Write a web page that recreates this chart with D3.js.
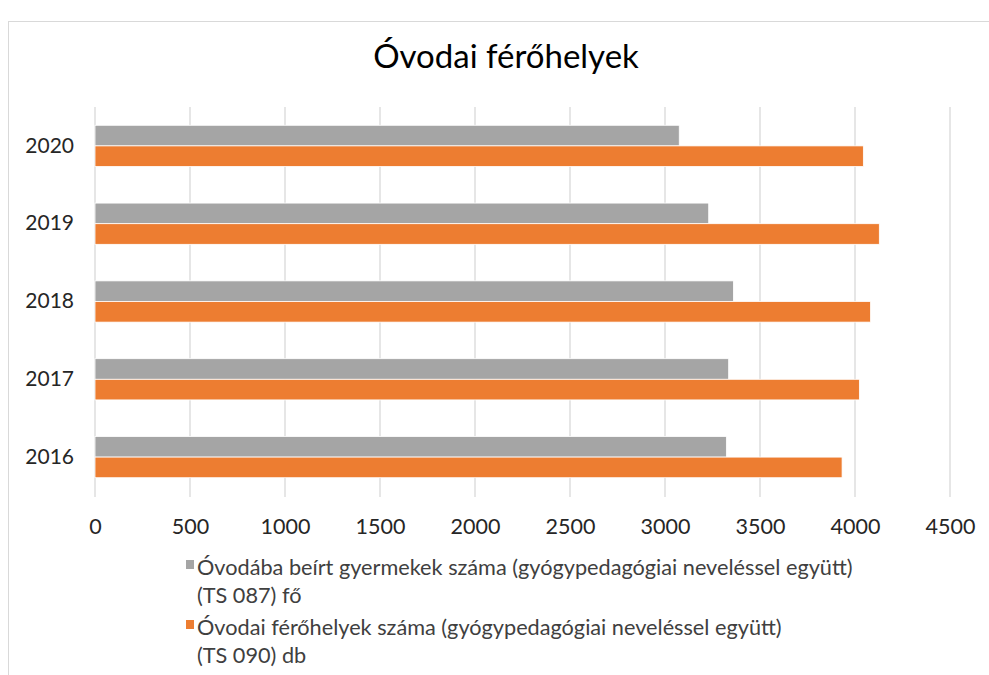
<html>
<script src='https://d3js.org/d3.v7.min.js'></script>
<style>
body {margin:0; background:#fff;}
text {font-family: Lato, "Liberation Sans", sans-serif; fill:#404040;}
</style>
<body onload='init()'>
<svg width=989 height=675></svg>
<script>
var years = ["2020", "2019", "2018", "2017", "2016"]
var enrolled = [3075, 3230, 3360, 3335, 3323]
var places = [4044, 4128, 4082, 4023, 3932]
var xTicks = [0, 500, 1000, 1500, 2000, 2500, 3000, 3500, 4000, 4500]
var seriesNames = [
  ["Óvodába beírt gyermekek száma (gyógypedagógiai neveléssel együtt)", "(TS 087) fő"],
  ["Óvodai férőhelyek száma (gyógypedagógiai neveléssel együtt)", "(TS 090) db"]
]
var colors = ["#A5A5A5", "#ED7D31"]

function init() {
var svg = d3.select("svg")
svg.append("rect").attr("x", 8.5).attr("y", 21.5).attr("width", 1000).attr("height", 700)
  .attr("fill", "#fff").attr("stroke", "#D9D9D9")

svg.append("text").attr("x", 506).attr("y", 68).attr("text-anchor", "middle")
  .style("font-size", "33px").style("fill", "#000").text("Óvodai férőhelyek")

var x = d3.scaleLinear().domain([0, 4500]).range([95, 950])
var y = d3.scaleBand().domain(years).range([107, 496]).paddingInner(0.47).paddingOuter(0.235)
var sub = d3.scaleBand().domain([0, 1]).range([0, y.bandwidth()])

svg.append("g").selectAll("line").data(xTicks).enter().append("line")
  .attr("x1", d => x(d)).attr("x2", d => x(d)).attr("y1", 107).attr("y2", 497)
  .attr("stroke", "#D9D9D9").attr("stroke-width", 1.3)

var data = years.map((yr, i) => ({year: yr, vals: [enrolled[i], places[i]]}))
svg.append("g").selectAll("g").data(data).enter().append("g")
  .attr("transform", d => "translate(0," + y(d.year) + ")")
  .selectAll("rect").data(d => d.vals).enter().append("rect")
  .attr("x", x(0)).attr("y", (d, i) => sub(i))
  .attr("width", d => x(d) - x(0)).attr("height", sub.bandwidth())
  .attr("fill", (d, i) => colors[i]).attr("stroke", "#fff").attr("stroke-width", 0.8)

var yAxis = svg.append("g").attr("transform", "translate(95,0)")
  .call(d3.axisLeft(y).tickSize(0).tickPadding(21))
yAxis.select(".domain").remove()
yAxis.selectAll("text").style("font-size", "21px").style("fill", "#262626")

var xAxis = svg.append("g").attr("transform", "translate(0,519)")
  .call(d3.axisBottom(x).tickValues(xTicks).tickSize(0).tickPadding(0).tickFormat(d3.format("d")))
xAxis.select(".domain").remove()
xAxis.selectAll("text").style("font-size", "21.5px").style("fill", "#262626")

var leg = svg.append("g")
seriesNames.forEach(function(lines, i) {
  var base = 575 + i * 60
  leg.append("rect").attr("x", 186).attr("y", base - 15).attr("width", 8).attr("height", 9).attr("fill", colors[i])
  lines.forEach(function(t, j) {
    leg.append("text").attr("x", 197).attr("y", base + j * 28)
      .style("font-size", "21.7px").style("fill", "#404040").text(t)
  })
})
}
</script>
</body>
</html>
